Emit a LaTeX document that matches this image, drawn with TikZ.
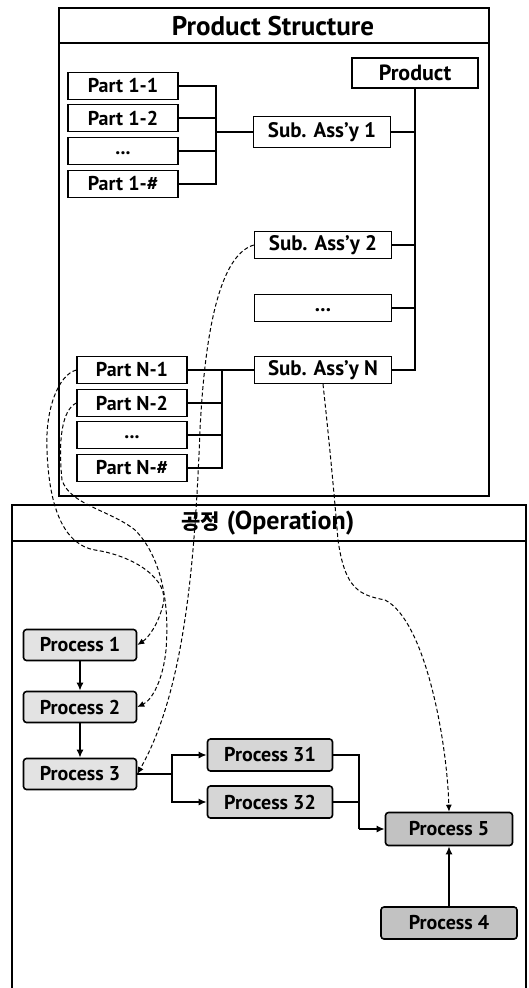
\documentclass[tikz,border=0pt]{standalone}
\usepackage{fontspec}
\setmainfont{PT Sans}
\newfontfamily\krfont{Noto Sans CJK KR}
\usetikzlibrary{arrows.meta}

\tikzset{
  partbox/.style={draw, line width=1.4pt, minimum width=110pt, minimum height=27pt, inner sep=0pt, font=\bfseries\fontsize{20}{20}\selectfont},
  subbox/.style={partbox, minimum width=137pt, font=\bfseries\fontsize{21}{21}\selectfont},
  proc/.style={draw, line width=1.6pt, rounded corners=3pt, fill=gray!22, minimum width=113pt, minimum height=31pt, inner sep=0pt, font=\bfseries\fontsize{20}{20}\selectfont},
  link/.style={line width=1.4pt},
  flow/.style={line width=1.6pt, -{Latex[length=8pt,width=7pt]}},
  usage/.style={line width=1pt, dashed, dash pattern=on 4pt off 2.5pt, -{Latex[length=7pt,width=6pt]}}
}

\begin{document}
\begin{tikzpicture}[x=1pt,y=1pt]
  \useasboundingbox (0,0) rectangle (528,-988);

  % product structure frame
  \draw[line width=1.4pt] (59,-8) rectangle (489,-496);
  \draw[line width=1.4pt] (59,-43) -- (489,-43);
  \node[font=\bfseries\fontsize{27}{27}\selectfont] (pstitle) at (273,-26) {Product Structure};

  \node[partbox, minimum width=126pt, minimum height=30pt, font=\bfseries\fontsize{22}{22}\selectfont] (prod) at (415,-73) {Product};

  % first sub assembly
  \node[partbox] (pa1) at (123,-86) {Part 1-1};
  \node[partbox] (pa2) at (123,-118) {Part 1-2};
  \node[partbox] (pa3) at (123,-151) {\raisebox{-8pt}{...}};
  \node[partbox] (pa4) at (123,-184) {Part 1-\#};
  \node[subbox, minimum height=31pt] (sa1) at (322,-132) {Sub. Ass'y 1};
  \node[subbox] (sa2) at (323,-245) {Sub. Ass'y 2};
  \node[subbox] (sadots) at (323,-308) {\raisebox{-8pt}{...}};
  \node[subbox] (saN) at (323,-370) {Sub. Ass'y N};

  % last sub assembly
  \node[partbox] (pn1) at (132,-370) {Part N-1};
  \node[partbox] (pn2) at (132,-403) {Part N-2};
  \node[partbox] (pn3) at (132,-435) {\raisebox{-8pt}{...}};
  \node[partbox] (pn4) at (132,-468) {Part N-\#};

  \coordinate (bus1) at (216,-132);
  \coordinate (busN) at (222,-370);
  \foreach \p in {pa1,pa2,pa3,pa4}
    \draw[link] (\p.east) -| (bus1);
  \draw[link] (bus1) -- (sa1.west);
  \foreach \p in {pn2,pn3,pn4}
    \draw[link] (\p.east) -| (busN);
  \draw[link] (pn1.east) -- (saN.west);
  \foreach \s in {sa1,sa2,sadots,saN}
    \draw[link] (prod.south) |- (\s.east);

  % operation frame
  \draw[line width=1.4pt] (12,-988) -- (12,-505) -- (526,-505) -- (526,-988);
  \draw[line width=1.4pt] (12,-541) -- (526,-541);
  \node[font=\bfseries\fontsize{26}{26}\selectfont] (optitle) at (268,-523) {{\krfont\bfseries\fontsize{21}{21}\selectfont 공정} (Operation)};

  \node[proc] (p1) at (80,-645) {Process 1};
  \node[proc] (p2) at (80,-707) {Process 2};
  \node[proc] (p3) at (80,-774) {Process 3};
  \node[proc, minimum width=125pt, minimum height=32pt, fill=gray!32] (p31) at (270,-755) {Process 31};
  \node[proc, minimum width=125pt, minimum height=32pt, fill=gray!32] (p32) at (270,-802) {Process 32};
  \node[proc, minimum width=127pt, minimum height=33pt, fill=gray!48] (p5) at (449,-829) {Process 5};
  \node[proc, minimum width=136pt, minimum height=32pt, fill=gray!48] (p4) at (449,-923) {Process 4};

  \coordinate (fork) at (172,-774);
  \coordinate (join) at (359,-829);
  \draw[flow] (p1) -- (p2);
  \draw[flow] (p2) -- (p3);
  \draw[line width=1.6pt] (p3.east) -- (fork);
  \draw[flow] (fork) |- (p31.west);
  \draw[flow] (fork) |- (p32.west);
  \draw[line width=1.6pt] (p31.east) -| (join);
  \draw[line width=1.6pt] (p32.east) -| (join);
  \draw[flow] (join) -- (p5.west);
  \draw[flow] (p4.north) -- (p5.south);

  % parts used by processes
  \draw[usage] (pn1.west) .. controls (58,-375) and (45,-410) .. (47,-450)
    .. controls (49,-510) and (65,-545) .. (95,-550)
    .. controls (135,-556) and (170,-580) .. (163,-605)
    .. controls (158,-625) and (148,-638) .. (p1.east);
  \draw[usage] (pn2.west) .. controls (62,-410) and (58,-440) .. (62,-480)
    .. controls (70,-505) and (110,-510) .. (135,-530)
    .. controls (160,-555) and (170,-600) .. (166,-650)
    .. controls (163,-680) and (152,-700) .. (p2.east);
  \draw[usage] (sa2.west) .. controls (220,-255) and (205,-330) .. (200,-430)
    .. controls (195,-560) and (185,-690) .. (p3.east);
  \draw[usage] (saN.south) .. controls (328,-430) and (333,-480) .. (338,-540)
    .. controls (345,-590) and (360,-595) .. (385,-600)
    .. controls (425,-620) and (447,-740) .. (p5.north);
\end{tikzpicture}
\end{document}
